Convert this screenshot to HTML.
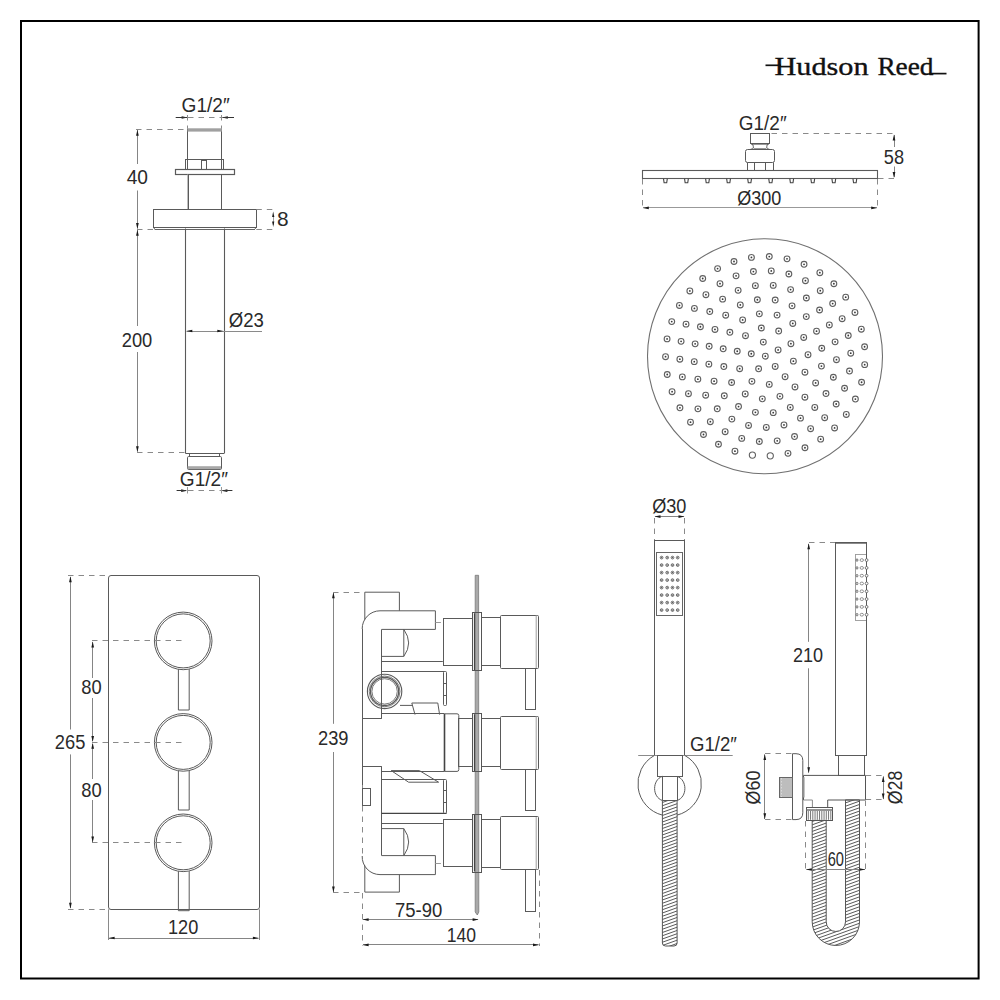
<!DOCTYPE html>
<html><head><meta charset="utf-8"><style>
html,body{margin:0;padding:0;background:#fff;}
body{width:1000px;height:1000px;overflow:hidden;}
svg{display:block;font-family:"Liberation Sans",sans-serif;}
</style></head><body>
<svg width="1000" height="1000" viewBox="0 0 1000 1000">
<rect width="1000" height="1000" fill="#fff"/>
<rect x="21" y="21" width="957.6" height="957.5" fill="none" stroke="#000" stroke-width="2"/>
<text x="774.5" y="74.5" font-size="25.8" fill="#111" textLength="94.1" lengthAdjust="spacingAndGlyphs" font-family="Liberation Serif" stroke="#111" stroke-width="0.35">Hudson</text>
<text x="877.4" y="74.5" font-size="25.8" fill="#111" textLength="56.1" lengthAdjust="spacingAndGlyphs" font-family="Liberation Serif" stroke="#111" stroke-width="0.35">Reed</text>
<line x1="765.5" y1="65.3" x2="781" y2="65.3" stroke="#111" stroke-width="1.7"/>
<line x1="929" y1="73.6" x2="946.5" y2="73.6" stroke="#111" stroke-width="1.7"/>
<text x="181.6" y="111.6" font-size="19.3" fill="#2a2a2a" textLength="48.1" lengthAdjust="spacingAndGlyphs" font-family="Liberation Sans">G1/2&#8243;</text>
<polygon points="187.6,117.5 181.6,116.15 181.6,118.85" fill="#1a1a1a"/>
<line x1="175.7" y1="117.5" x2="187" y2="117.5" stroke="#333" stroke-width="1"/>
<polygon points="221.8,117.5 227.8,116.15 227.8,118.85" fill="#1a1a1a"/>
<line x1="222.5" y1="117.5" x2="234" y2="117.5" stroke="#333" stroke-width="1"/>
<line x1="188" y1="117.5" x2="221.6" y2="117.5" stroke="#8a8a8a" stroke-width="1" stroke-dasharray="5.5 5"/>
<line x1="187.5" y1="115" x2="187.5" y2="128.5" stroke="#8a8a8a" stroke-width="1" stroke-dasharray="5.5 5"/>
<line x1="221.5" y1="115" x2="221.5" y2="128.5" stroke="#8a8a8a" stroke-width="1" stroke-dasharray="5.5 5"/>
<path d="M187.5,128.5 L187.5,159.5 L221.5,159.5 L221.5,128.5" stroke="#5a5a5a" stroke-width="1" fill="none"/>
<rect x="187.5" y="128.3" width="34.4" height="3.3" fill="#a0a0a0"/>
<rect x="185.5" y="159.5" width="38" height="10" stroke="#5a5a5a" stroke-width="1" fill="none"/>
<line x1="187.5" y1="159.3" x2="187.5" y2="169.2" stroke="#5a5a5a" stroke-width="1"/>
<line x1="221.5" y1="159.3" x2="221.5" y2="169.2" stroke="#5a5a5a" stroke-width="1"/>
<rect x="201.5" y="160.5" width="5" height="9" stroke="#5a5a5a" stroke-width="1" fill="none"/>
<rect x="175.5" y="169.5" width="59" height="5" stroke="#5a5a5a" stroke-width="1.2" fill="none"/>
<line x1="187.5" y1="174.6" x2="187.5" y2="209" stroke="#bdbdbd" stroke-width="1"/>
<line x1="188.5" y1="174.6" x2="188.5" y2="209" stroke="#5a5a5a" stroke-width="1"/>
<line x1="221.5" y1="174.6" x2="221.5" y2="209" stroke="#5a5a5a" stroke-width="1"/>
<rect x="153.5" y="209.5" width="103" height="18" stroke="#5a5a5a" stroke-width="1" fill="none"/>
<line x1="154.6" y1="229.5" x2="255" y2="229.5" stroke="#666" stroke-width="1"/>
<path d="M153.9,228 L155,229.3 M255.8,228 L254.6,229.3" stroke="#666" stroke-width="1" fill="none"/>
<line x1="136" y1="129.5" x2="184" y2="129.5" stroke="#8a8a8a" stroke-width="1" stroke-dasharray="5.5 5"/>
<line x1="137.5" y1="130" x2="137.5" y2="164" stroke="#858585" stroke-width="1"/>
<polygon points="137.4,129.8 136.05,135.8 138.75,135.8" fill="#1a1a1a"/>
<line x1="137.5" y1="190.5" x2="137.5" y2="228.5" stroke="#858585" stroke-width="1"/>
<polygon points="137.4,229 136.05,223 138.75,223" fill="#1a1a1a"/>
<text x="126.7" y="183.7" font-size="19.3" fill="#2a2a2a" textLength="21.3" lengthAdjust="spacingAndGlyphs" font-family="Liberation Sans">40</text>
<line x1="137" y1="229.5" x2="153" y2="229.5" stroke="#8a8a8a" stroke-width="1" stroke-dasharray="5.5 5"/>
<line x1="256.3" y1="229.5" x2="274" y2="229.5" stroke="#8a8a8a" stroke-width="1" stroke-dasharray="5.5 5"/>
<line x1="256.3" y1="209.5" x2="274" y2="209.5" stroke="#8a8a8a" stroke-width="1" stroke-dasharray="5.5 5"/>
<line x1="273.5" y1="215" x2="273.5" y2="225" stroke="#858585" stroke-width="0.8"/>
<polygon points="273.2,211.5 272.1,217 274.3,217" fill="#1a1a1a"/>
<polygon points="273.2,227 272.1,221.5 274.3,221.5" fill="#1a1a1a"/>
<text x="277" y="226.1" font-size="19.3" fill="#2a2a2a" textLength="11.6" lengthAdjust="spacingAndGlyphs" font-family="Liberation Sans">8</text>
<line x1="185.5" y1="228.5" x2="185.5" y2="453.3" stroke="#5a5a5a" stroke-width="1.1"/>
<line x1="224.5" y1="228.5" x2="224.5" y2="453.3" stroke="#5a5a5a" stroke-width="1.1"/>
<line x1="185.4" y1="453.5" x2="224.3" y2="453.5" stroke="#5a5a5a" stroke-width="1"/>
<text x="228.8" y="326.9" font-size="19.3" fill="#2a2a2a" textLength="35.1" lengthAdjust="spacingAndGlyphs" font-family="Liberation Sans">&#216;23</text>
<line x1="186.5" y1="331.5" x2="262" y2="331.5" stroke="#8a8a8a" stroke-width="1"/>
<polygon points="186.3,331 192.3,329.65 192.3,332.35" fill="#1a1a1a"/>
<polygon points="223.3,331 217.3,329.65 217.3,332.35" fill="#1a1a1a"/>
<line x1="137.5" y1="230" x2="137.5" y2="326" stroke="#858585" stroke-width="1"/>
<polygon points="137.4,229.8 136.05,235.8 138.75,235.8" fill="#1a1a1a"/>
<line x1="137.5" y1="352" x2="137.5" y2="451.5" stroke="#858585" stroke-width="1"/>
<polygon points="137.4,452.2 136.05,446.2 138.75,446.2" fill="#1a1a1a"/>
<text x="121.7" y="347.2" font-size="19.3" fill="#2a2a2a" textLength="30.6" lengthAdjust="spacingAndGlyphs" font-family="Liberation Sans">200</text>
<line x1="137" y1="452.5" x2="185" y2="452.5" stroke="#8a8a8a" stroke-width="1" stroke-dasharray="5.5 5"/>
<rect x="189.5" y="453.5" width="30" height="3" stroke="#5a5a5a" stroke-width="1" fill="none"/>
<rect x="187.5" y="456.5" width="34" height="13" stroke="#5a5a5a" stroke-width="1" fill="none" rx="1.2"/>
<rect x="187.6" y="466.2" width="33.4" height="3" fill="#a8a8a8"/>
<text x="179.8" y="485.5" font-size="19.3" fill="#2a2a2a" textLength="48.1" lengthAdjust="spacingAndGlyphs" font-family="Liberation Sans">G1/2&#8243;</text>
<polygon points="187.2,490.7 181.2,489.35 181.2,492.05" fill="#1a1a1a"/>
<line x1="176.6" y1="490.5" x2="186" y2="490.5" stroke="#333" stroke-width="1"/>
<polygon points="221.4,490.7 227.4,489.35 227.4,492.05" fill="#1a1a1a"/>
<line x1="222.5" y1="490.5" x2="232.4" y2="490.5" stroke="#333" stroke-width="1"/>
<line x1="188" y1="490.5" x2="221" y2="490.5" stroke="#8a8a8a" stroke-width="1" stroke-dasharray="5.5 5"/>
<line x1="187.5" y1="487" x2="187.5" y2="493.5" stroke="#999" stroke-width="1"/>
<line x1="221.5" y1="487" x2="221.5" y2="493.5" stroke="#999" stroke-width="1"/>
<text x="738.8" y="129.9" font-size="19.3" fill="#2a2a2a" textLength="47.8" lengthAdjust="spacingAndGlyphs" font-family="Liberation Sans">G1/2&#8243;</text>
<rect x="750.5" y="133.5" width="19" height="10" stroke="#5a5a5a" stroke-width="1" fill="none"/>
<line x1="751" y1="144.5" x2="769" y2="144.5" stroke="#999" stroke-width="1"/>
<path d="M751.5,143.5 Q753.3,144.5 753.3,146.5 L753.3,148 Q753.3,149 750.5,149.3 M768.5,143.5 Q766.8,144.5 766.8,146.5 L766.8,148 Q766.8,149 769.5,149.3" stroke="#5a5a5a" stroke-width="1" fill="none"/>
<line x1="754" y1="148.5" x2="766" y2="148.5" stroke="#999" stroke-width="1"/>
<rect x="745.5" y="149.5" width="29" height="13" stroke="#5a5a5a" stroke-width="1" fill="none" rx="2"/>
<line x1="747.5" y1="162.5" x2="747.5" y2="170.5" stroke="#5a5a5a" stroke-width="1"/>
<line x1="754.5" y1="162.5" x2="754.5" y2="170.5" stroke="#5a5a5a" stroke-width="1"/>
<line x1="765.5" y1="162.5" x2="765.5" y2="170.5" stroke="#5a5a5a" stroke-width="1"/>
<line x1="773.5" y1="162.5" x2="773.5" y2="170.5" stroke="#5a5a5a" stroke-width="1"/>
<rect x="642.5" y="170.5" width="235" height="8" stroke="#5a5a5a" stroke-width="1.1" fill="none"/>
<path d="M663.5,178.6 L664.1,182.8 L666.7,182.8 L667.3,178.6" stroke="#444" stroke-width="1.1" fill="none"/>
<path d="M684.55,178.6 L685.15,182.8 L687.75,182.8 L688.35,178.6" stroke="#444" stroke-width="1.1" fill="none"/>
<path d="M705.6,178.6 L706.2,182.8 L708.8,182.8 L709.4,178.6" stroke="#444" stroke-width="1.1" fill="none"/>
<path d="M726.65,178.6 L727.25,182.8 L729.85,182.8 L730.45,178.6" stroke="#444" stroke-width="1.1" fill="none"/>
<path d="M747.7,178.6 L748.3,182.8 L750.9,182.8 L751.5,178.6" stroke="#444" stroke-width="1.1" fill="none"/>
<path d="M768.75,178.6 L769.35,182.8 L771.95,182.8 L772.55,178.6" stroke="#444" stroke-width="1.1" fill="none"/>
<path d="M789.8,178.6 L790.4,182.8 L793,182.8 L793.6,178.6" stroke="#444" stroke-width="1.1" fill="none"/>
<path d="M810.85,178.6 L811.45,182.8 L814.05,182.8 L814.65,178.6" stroke="#444" stroke-width="1.1" fill="none"/>
<path d="M831.9,178.6 L832.5,182.8 L835.1,182.8 L835.7,178.6" stroke="#444" stroke-width="1.1" fill="none"/>
<path d="M852.95,178.6 L853.55,182.8 L856.15,182.8 L856.75,178.6" stroke="#444" stroke-width="1.1" fill="none"/>
<line x1="771.5" y1="133.5" x2="895" y2="133.5" stroke="#8a8a8a" stroke-width="1" stroke-dasharray="5.5 5"/>
<line x1="878" y1="178.5" x2="895" y2="178.5" stroke="#8a8a8a" stroke-width="1" stroke-dasharray="5.5 5"/>
<line x1="894.5" y1="135" x2="894.5" y2="147" stroke="#858585" stroke-width="1"/>
<polygon points="894,134.5 892.65,140.5 895.35,140.5" fill="#1a1a1a"/>
<line x1="894.5" y1="166.5" x2="894.5" y2="177" stroke="#858585" stroke-width="1"/>
<polygon points="894,178 892.65,172 895.35,172" fill="#1a1a1a"/>
<text x="883.8" y="163.8" font-size="19.3" fill="#2a2a2a" textLength="20.2" lengthAdjust="spacingAndGlyphs" font-family="Liberation Sans">58</text>
<text x="737.3" y="205" font-size="19.3" fill="#2a2a2a" textLength="44.1" lengthAdjust="spacingAndGlyphs" font-family="Liberation Sans">&#216;300</text>
<line x1="643" y1="207.5" x2="877" y2="207.5" stroke="#999" stroke-width="1"/>
<polygon points="642.8,207.9 648.8,206.55 648.8,209.25" fill="#1a1a1a"/>
<polygon points="877.2,207.9 871.2,206.55 871.2,209.25" fill="#1a1a1a"/>
<line x1="642.5" y1="179" x2="642.5" y2="210" stroke="#8a8a8a" stroke-width="1" stroke-dasharray="5.5 5"/>
<line x1="877.5" y1="179" x2="877.5" y2="210" stroke="#8a8a8a" stroke-width="1" stroke-dasharray="5.5 5"/>
<circle cx="765" cy="356.25" r="117.5" stroke="#707070" stroke-width="1.1" fill="none"/>
<circle cx="765.3" cy="356.2" r="2.9" stroke="#606060" stroke-width="1.1" fill="none"/>
<circle cx="765.3" cy="356.2" r="0.9" stroke="none" stroke-width="0" fill="#3a3a3a"/>
<circle cx="751.27" cy="353.73" r="2.9" stroke="#606060" stroke-width="1.1" fill="none"/>
<circle cx="751.27" cy="353.73" r="0.9" stroke="none" stroke-width="0" fill="#3a3a3a"/>
<circle cx="763.32" cy="342.09" r="2.9" stroke="#606060" stroke-width="1.1" fill="none"/>
<circle cx="763.32" cy="342.09" r="0.9" stroke="none" stroke-width="0" fill="#3a3a3a"/>
<circle cx="778.11" cy="349.95" r="2.9" stroke="#606060" stroke-width="1.1" fill="none"/>
<circle cx="778.11" cy="349.95" r="0.9" stroke="none" stroke-width="0" fill="#3a3a3a"/>
<circle cx="775.2" cy="366.45" r="2.9" stroke="#606060" stroke-width="1.1" fill="none"/>
<circle cx="775.2" cy="366.45" r="0.9" stroke="none" stroke-width="0" fill="#3a3a3a"/>
<circle cx="758.61" cy="368.78" r="2.9" stroke="#606060" stroke-width="1.1" fill="none"/>
<circle cx="758.61" cy="368.78" r="0.9" stroke="none" stroke-width="0" fill="#3a3a3a"/>
<circle cx="737.23" cy="351.25" r="2.9" stroke="#606060" stroke-width="1.1" fill="none"/>
<circle cx="737.23" cy="351.25" r="0.9" stroke="none" stroke-width="0" fill="#3a3a3a"/>
<circle cx="745.5" cy="335.7" r="2.9" stroke="#606060" stroke-width="1.1" fill="none"/>
<circle cx="745.5" cy="335.7" r="0.9" stroke="none" stroke-width="0" fill="#3a3a3a"/>
<circle cx="761.33" cy="327.98" r="2.9" stroke="#606060" stroke-width="1.1" fill="none"/>
<circle cx="761.33" cy="327.98" r="0.9" stroke="none" stroke-width="0" fill="#3a3a3a"/>
<circle cx="778.68" cy="331.04" r="2.9" stroke="#606060" stroke-width="1.1" fill="none"/>
<circle cx="778.68" cy="331.04" r="0.9" stroke="none" stroke-width="0" fill="#3a3a3a"/>
<circle cx="790.92" cy="343.71" r="2.9" stroke="#606060" stroke-width="1.1" fill="none"/>
<circle cx="790.92" cy="343.71" r="0.9" stroke="none" stroke-width="0" fill="#3a3a3a"/>
<circle cx="793.37" cy="361.15" r="2.9" stroke="#606060" stroke-width="1.1" fill="none"/>
<circle cx="793.37" cy="361.15" r="0.9" stroke="none" stroke-width="0" fill="#3a3a3a"/>
<circle cx="785.1" cy="376.7" r="2.9" stroke="#606060" stroke-width="1.1" fill="none"/>
<circle cx="785.1" cy="376.7" r="0.9" stroke="none" stroke-width="0" fill="#3a3a3a"/>
<circle cx="769.27" cy="384.42" r="2.9" stroke="#606060" stroke-width="1.1" fill="none"/>
<circle cx="769.27" cy="384.42" r="0.9" stroke="none" stroke-width="0" fill="#3a3a3a"/>
<circle cx="751.92" cy="381.36" r="2.9" stroke="#606060" stroke-width="1.1" fill="none"/>
<circle cx="751.92" cy="381.36" r="0.9" stroke="none" stroke-width="0" fill="#3a3a3a"/>
<circle cx="739.68" cy="368.69" r="2.9" stroke="#606060" stroke-width="1.1" fill="none"/>
<circle cx="739.68" cy="368.69" r="0.9" stroke="none" stroke-width="0" fill="#3a3a3a"/>
<circle cx="723.2" cy="348.78" r="2.9" stroke="#606060" stroke-width="1.1" fill="none"/>
<circle cx="723.2" cy="348.78" r="0.9" stroke="none" stroke-width="0" fill="#3a3a3a"/>
<circle cx="729.86" cy="332.29" r="2.9" stroke="#606060" stroke-width="1.1" fill="none"/>
<circle cx="729.86" cy="332.29" r="0.9" stroke="none" stroke-width="0" fill="#3a3a3a"/>
<circle cx="742.65" cy="319.95" r="2.9" stroke="#606060" stroke-width="1.1" fill="none"/>
<circle cx="742.65" cy="319.95" r="0.9" stroke="none" stroke-width="0" fill="#3a3a3a"/>
<circle cx="759.35" cy="313.87" r="2.9" stroke="#606060" stroke-width="1.1" fill="none"/>
<circle cx="759.35" cy="313.87" r="0.9" stroke="none" stroke-width="0" fill="#3a3a3a"/>
<circle cx="777.08" cy="315.11" r="2.9" stroke="#606060" stroke-width="1.1" fill="none"/>
<circle cx="777.08" cy="315.11" r="0.9" stroke="none" stroke-width="0" fill="#3a3a3a"/>
<circle cx="792.78" cy="323.45" r="2.9" stroke="#606060" stroke-width="1.1" fill="none"/>
<circle cx="792.78" cy="323.45" r="0.9" stroke="none" stroke-width="0" fill="#3a3a3a"/>
<circle cx="803.72" cy="337.46" r="2.9" stroke="#606060" stroke-width="1.1" fill="none"/>
<circle cx="803.72" cy="337.46" r="0.9" stroke="none" stroke-width="0" fill="#3a3a3a"/>
<circle cx="808.02" cy="354.71" r="2.9" stroke="#606060" stroke-width="1.1" fill="none"/>
<circle cx="808.02" cy="354.71" r="0.9" stroke="none" stroke-width="0" fill="#3a3a3a"/>
<circle cx="804.94" cy="372.21" r="2.9" stroke="#606060" stroke-width="1.1" fill="none"/>
<circle cx="804.94" cy="372.21" r="0.9" stroke="none" stroke-width="0" fill="#3a3a3a"/>
<circle cx="795" cy="386.95" r="2.9" stroke="#606060" stroke-width="1.1" fill="none"/>
<circle cx="795" cy="386.95" r="0.9" stroke="none" stroke-width="0" fill="#3a3a3a"/>
<circle cx="779.92" cy="396.37" r="2.9" stroke="#606060" stroke-width="1.1" fill="none"/>
<circle cx="779.92" cy="396.37" r="0.9" stroke="none" stroke-width="0" fill="#3a3a3a"/>
<circle cx="762.32" cy="398.85" r="2.9" stroke="#606060" stroke-width="1.1" fill="none"/>
<circle cx="762.32" cy="398.85" r="0.9" stroke="none" stroke-width="0" fill="#3a3a3a"/>
<circle cx="745.23" cy="393.95" r="2.9" stroke="#606060" stroke-width="1.1" fill="none"/>
<circle cx="745.23" cy="393.95" r="0.9" stroke="none" stroke-width="0" fill="#3a3a3a"/>
<circle cx="731.61" cy="382.52" r="2.9" stroke="#606060" stroke-width="1.1" fill="none"/>
<circle cx="731.61" cy="382.52" r="0.9" stroke="none" stroke-width="0" fill="#3a3a3a"/>
<circle cx="723.82" cy="366.54" r="2.9" stroke="#606060" stroke-width="1.1" fill="none"/>
<circle cx="723.82" cy="366.54" r="0.9" stroke="none" stroke-width="0" fill="#3a3a3a"/>
<circle cx="709.17" cy="346.3" r="2.9" stroke="#606060" stroke-width="1.1" fill="none"/>
<circle cx="709.17" cy="346.3" r="0.9" stroke="none" stroke-width="0" fill="#3a3a3a"/>
<circle cx="714.97" cy="329.44" r="2.9" stroke="#606060" stroke-width="1.1" fill="none"/>
<circle cx="714.97" cy="329.44" r="0.9" stroke="none" stroke-width="0" fill="#3a3a3a"/>
<circle cx="725.7" cy="315.2" r="2.9" stroke="#606060" stroke-width="1.1" fill="none"/>
<circle cx="725.7" cy="315.2" r="0.9" stroke="none" stroke-width="0" fill="#3a3a3a"/>
<circle cx="740.31" cy="304.97" r="2.9" stroke="#606060" stroke-width="1.1" fill="none"/>
<circle cx="740.31" cy="304.97" r="0.9" stroke="none" stroke-width="0" fill="#3a3a3a"/>
<circle cx="757.37" cy="299.75" r="2.9" stroke="#606060" stroke-width="1.1" fill="none"/>
<circle cx="757.37" cy="299.75" r="0.9" stroke="none" stroke-width="0" fill="#3a3a3a"/>
<circle cx="775.2" cy="300.07" r="2.9" stroke="#606060" stroke-width="1.1" fill="none"/>
<circle cx="775.2" cy="300.07" r="0.9" stroke="none" stroke-width="0" fill="#3a3a3a"/>
<circle cx="792.06" cy="305.87" r="2.9" stroke="#606060" stroke-width="1.1" fill="none"/>
<circle cx="792.06" cy="305.87" r="0.9" stroke="none" stroke-width="0" fill="#3a3a3a"/>
<circle cx="806.3" cy="316.6" r="2.9" stroke="#606060" stroke-width="1.1" fill="none"/>
<circle cx="806.3" cy="316.6" r="0.9" stroke="none" stroke-width="0" fill="#3a3a3a"/>
<circle cx="816.53" cy="331.21" r="2.9" stroke="#606060" stroke-width="1.1" fill="none"/>
<circle cx="816.53" cy="331.21" r="0.9" stroke="none" stroke-width="0" fill="#3a3a3a"/>
<circle cx="821.75" cy="348.27" r="2.9" stroke="#606060" stroke-width="1.1" fill="none"/>
<circle cx="821.75" cy="348.27" r="0.9" stroke="none" stroke-width="0" fill="#3a3a3a"/>
<circle cx="821.43" cy="366.1" r="2.9" stroke="#606060" stroke-width="1.1" fill="none"/>
<circle cx="821.43" cy="366.1" r="0.9" stroke="none" stroke-width="0" fill="#3a3a3a"/>
<circle cx="815.63" cy="382.96" r="2.9" stroke="#606060" stroke-width="1.1" fill="none"/>
<circle cx="815.63" cy="382.96" r="0.9" stroke="none" stroke-width="0" fill="#3a3a3a"/>
<circle cx="804.9" cy="397.2" r="2.9" stroke="#606060" stroke-width="1.1" fill="none"/>
<circle cx="804.9" cy="397.2" r="0.9" stroke="none" stroke-width="0" fill="#3a3a3a"/>
<circle cx="790.29" cy="407.43" r="2.9" stroke="#606060" stroke-width="1.1" fill="none"/>
<circle cx="790.29" cy="407.43" r="0.9" stroke="none" stroke-width="0" fill="#3a3a3a"/>
<circle cx="773.23" cy="412.65" r="2.9" stroke="#606060" stroke-width="1.1" fill="none"/>
<circle cx="773.23" cy="412.65" r="0.9" stroke="none" stroke-width="0" fill="#3a3a3a"/>
<circle cx="755.4" cy="412.33" r="2.9" stroke="#606060" stroke-width="1.1" fill="none"/>
<circle cx="755.4" cy="412.33" r="0.9" stroke="none" stroke-width="0" fill="#3a3a3a"/>
<circle cx="738.54" cy="406.53" r="2.9" stroke="#606060" stroke-width="1.1" fill="none"/>
<circle cx="738.54" cy="406.53" r="0.9" stroke="none" stroke-width="0" fill="#3a3a3a"/>
<circle cx="724.3" cy="395.8" r="2.9" stroke="#606060" stroke-width="1.1" fill="none"/>
<circle cx="724.3" cy="395.8" r="0.9" stroke="none" stroke-width="0" fill="#3a3a3a"/>
<circle cx="714.07" cy="381.19" r="2.9" stroke="#606060" stroke-width="1.1" fill="none"/>
<circle cx="714.07" cy="381.19" r="0.9" stroke="none" stroke-width="0" fill="#3a3a3a"/>
<circle cx="708.85" cy="364.13" r="2.9" stroke="#606060" stroke-width="1.1" fill="none"/>
<circle cx="708.85" cy="364.13" r="0.9" stroke="none" stroke-width="0" fill="#3a3a3a"/>
<circle cx="695.13" cy="343.83" r="2.9" stroke="#606060" stroke-width="1.1" fill="none"/>
<circle cx="695.13" cy="343.83" r="0.9" stroke="none" stroke-width="0" fill="#3a3a3a"/>
<circle cx="700.41" cy="326.77" r="2.9" stroke="#606060" stroke-width="1.1" fill="none"/>
<circle cx="700.41" cy="326.77" r="0.9" stroke="none" stroke-width="0" fill="#3a3a3a"/>
<circle cx="709.77" cy="311.55" r="2.9" stroke="#606060" stroke-width="1.1" fill="none"/>
<circle cx="709.77" cy="311.55" r="0.9" stroke="none" stroke-width="0" fill="#3a3a3a"/>
<circle cx="722.62" cy="299.15" r="2.9" stroke="#606060" stroke-width="1.1" fill="none"/>
<circle cx="722.62" cy="299.15" r="0.9" stroke="none" stroke-width="0" fill="#3a3a3a"/>
<circle cx="738.15" cy="290.33" r="2.9" stroke="#606060" stroke-width="1.1" fill="none"/>
<circle cx="738.15" cy="290.33" r="0.9" stroke="none" stroke-width="0" fill="#3a3a3a"/>
<circle cx="755.38" cy="285.64" r="2.9" stroke="#606060" stroke-width="1.1" fill="none"/>
<circle cx="755.38" cy="285.64" r="0.9" stroke="none" stroke-width="0" fill="#3a3a3a"/>
<circle cx="773.24" cy="285.39" r="2.9" stroke="#606060" stroke-width="1.1" fill="none"/>
<circle cx="773.24" cy="285.39" r="0.9" stroke="none" stroke-width="0" fill="#3a3a3a"/>
<circle cx="790.6" cy="289.59" r="2.9" stroke="#606060" stroke-width="1.1" fill="none"/>
<circle cx="790.6" cy="289.59" r="0.9" stroke="none" stroke-width="0" fill="#3a3a3a"/>
<circle cx="806.37" cy="297.98" r="2.9" stroke="#606060" stroke-width="1.1" fill="none"/>
<circle cx="806.37" cy="297.98" r="0.9" stroke="none" stroke-width="0" fill="#3a3a3a"/>
<circle cx="819.56" cy="310.02" r="2.9" stroke="#606060" stroke-width="1.1" fill="none"/>
<circle cx="819.56" cy="310.02" r="0.9" stroke="none" stroke-width="0" fill="#3a3a3a"/>
<circle cx="829.34" cy="324.97" r="2.9" stroke="#606060" stroke-width="1.1" fill="none"/>
<circle cx="829.34" cy="324.97" r="0.9" stroke="none" stroke-width="0" fill="#3a3a3a"/>
<circle cx="835.09" cy="341.87" r="2.9" stroke="#606060" stroke-width="1.1" fill="none"/>
<circle cx="835.09" cy="341.87" r="0.9" stroke="none" stroke-width="0" fill="#3a3a3a"/>
<circle cx="836.46" cy="359.68" r="2.9" stroke="#606060" stroke-width="1.1" fill="none"/>
<circle cx="836.46" cy="359.68" r="0.9" stroke="none" stroke-width="0" fill="#3a3a3a"/>
<circle cx="833.36" cy="377.27" r="2.9" stroke="#606060" stroke-width="1.1" fill="none"/>
<circle cx="833.36" cy="377.27" r="0.9" stroke="none" stroke-width="0" fill="#3a3a3a"/>
<circle cx="825.99" cy="393.53" r="2.9" stroke="#606060" stroke-width="1.1" fill="none"/>
<circle cx="825.99" cy="393.53" r="0.9" stroke="none" stroke-width="0" fill="#3a3a3a"/>
<circle cx="814.79" cy="407.45" r="2.9" stroke="#606060" stroke-width="1.1" fill="none"/>
<circle cx="814.79" cy="407.45" r="0.9" stroke="none" stroke-width="0" fill="#3a3a3a"/>
<circle cx="800.49" cy="418.15" r="2.9" stroke="#606060" stroke-width="1.1" fill="none"/>
<circle cx="800.49" cy="418.15" r="0.9" stroke="none" stroke-width="0" fill="#3a3a3a"/>
<circle cx="783.98" cy="424.96" r="2.9" stroke="#606060" stroke-width="1.1" fill="none"/>
<circle cx="783.98" cy="424.96" r="0.9" stroke="none" stroke-width="0" fill="#3a3a3a"/>
<circle cx="766.29" cy="427.44" r="2.9" stroke="#606060" stroke-width="1.1" fill="none"/>
<circle cx="766.29" cy="427.44" r="0.9" stroke="none" stroke-width="0" fill="#3a3a3a"/>
<circle cx="748.55" cy="425.45" r="2.9" stroke="#606060" stroke-width="1.1" fill="none"/>
<circle cx="748.55" cy="425.45" r="0.9" stroke="none" stroke-width="0" fill="#3a3a3a"/>
<circle cx="731.85" cy="419.11" r="2.9" stroke="#606060" stroke-width="1.1" fill="none"/>
<circle cx="731.85" cy="419.11" r="0.9" stroke="none" stroke-width="0" fill="#3a3a3a"/>
<circle cx="717.26" cy="408.81" r="2.9" stroke="#606060" stroke-width="1.1" fill="none"/>
<circle cx="717.26" cy="408.81" r="0.9" stroke="none" stroke-width="0" fill="#3a3a3a"/>
<circle cx="705.68" cy="395.21" r="2.9" stroke="#606060" stroke-width="1.1" fill="none"/>
<circle cx="705.68" cy="395.21" r="0.9" stroke="none" stroke-width="0" fill="#3a3a3a"/>
<circle cx="697.85" cy="379.16" r="2.9" stroke="#606060" stroke-width="1.1" fill="none"/>
<circle cx="697.85" cy="379.16" r="0.9" stroke="none" stroke-width="0" fill="#3a3a3a"/>
<circle cx="694.26" cy="361.67" r="2.9" stroke="#606060" stroke-width="1.1" fill="none"/>
<circle cx="694.26" cy="361.67" r="0.9" stroke="none" stroke-width="0" fill="#3a3a3a"/>
<circle cx="681.1" cy="341.35" r="2.9" stroke="#606060" stroke-width="1.1" fill="none"/>
<circle cx="681.1" cy="341.35" r="0.9" stroke="none" stroke-width="0" fill="#3a3a3a"/>
<circle cx="686.03" cy="324.17" r="2.9" stroke="#606060" stroke-width="1.1" fill="none"/>
<circle cx="686.03" cy="324.17" r="0.9" stroke="none" stroke-width="0" fill="#3a3a3a"/>
<circle cx="694.42" cy="308.39" r="2.9" stroke="#606060" stroke-width="1.1" fill="none"/>
<circle cx="694.42" cy="308.39" r="0.9" stroke="none" stroke-width="0" fill="#3a3a3a"/>
<circle cx="705.91" cy="294.7" r="2.9" stroke="#606060" stroke-width="1.1" fill="none"/>
<circle cx="705.91" cy="294.7" r="0.9" stroke="none" stroke-width="0" fill="#3a3a3a"/>
<circle cx="719.99" cy="283.69" r="2.9" stroke="#606060" stroke-width="1.1" fill="none"/>
<circle cx="719.99" cy="283.69" r="0.9" stroke="none" stroke-width="0" fill="#3a3a3a"/>
<circle cx="736.06" cy="275.86" r="2.9" stroke="#606060" stroke-width="1.1" fill="none"/>
<circle cx="736.06" cy="275.86" r="0.9" stroke="none" stroke-width="0" fill="#3a3a3a"/>
<circle cx="753.4" cy="271.53" r="2.9" stroke="#606060" stroke-width="1.1" fill="none"/>
<circle cx="753.4" cy="271.53" r="0.9" stroke="none" stroke-width="0" fill="#3a3a3a"/>
<circle cx="771.26" cy="270.91" r="2.9" stroke="#606060" stroke-width="1.1" fill="none"/>
<circle cx="771.26" cy="270.91" r="0.9" stroke="none" stroke-width="0" fill="#3a3a3a"/>
<circle cx="788.87" cy="274.01" r="2.9" stroke="#606060" stroke-width="1.1" fill="none"/>
<circle cx="788.87" cy="274.01" r="0.9" stroke="none" stroke-width="0" fill="#3a3a3a"/>
<circle cx="805.44" cy="280.71" r="2.9" stroke="#606060" stroke-width="1.1" fill="none"/>
<circle cx="805.44" cy="280.71" r="0.9" stroke="none" stroke-width="0" fill="#3a3a3a"/>
<circle cx="820.26" cy="290.7" r="2.9" stroke="#606060" stroke-width="1.1" fill="none"/>
<circle cx="820.26" cy="290.7" r="0.9" stroke="none" stroke-width="0" fill="#3a3a3a"/>
<circle cx="832.67" cy="303.56" r="2.9" stroke="#606060" stroke-width="1.1" fill="none"/>
<circle cx="832.67" cy="303.56" r="0.9" stroke="none" stroke-width="0" fill="#3a3a3a"/>
<circle cx="842.15" cy="318.72" r="2.9" stroke="#606060" stroke-width="1.1" fill="none"/>
<circle cx="842.15" cy="318.72" r="0.9" stroke="none" stroke-width="0" fill="#3a3a3a"/>
<circle cx="848.26" cy="335.52" r="2.9" stroke="#606060" stroke-width="1.1" fill="none"/>
<circle cx="848.26" cy="335.52" r="0.9" stroke="none" stroke-width="0" fill="#3a3a3a"/>
<circle cx="850.75" cy="353.22" r="2.9" stroke="#606060" stroke-width="1.1" fill="none"/>
<circle cx="850.75" cy="353.22" r="0.9" stroke="none" stroke-width="0" fill="#3a3a3a"/>
<circle cx="849.5" cy="371.05" r="2.9" stroke="#606060" stroke-width="1.1" fill="none"/>
<circle cx="849.5" cy="371.05" r="0.9" stroke="none" stroke-width="0" fill="#3a3a3a"/>
<circle cx="844.57" cy="388.23" r="2.9" stroke="#606060" stroke-width="1.1" fill="none"/>
<circle cx="844.57" cy="388.23" r="0.9" stroke="none" stroke-width="0" fill="#3a3a3a"/>
<circle cx="836.18" cy="404.01" r="2.9" stroke="#606060" stroke-width="1.1" fill="none"/>
<circle cx="836.18" cy="404.01" r="0.9" stroke="none" stroke-width="0" fill="#3a3a3a"/>
<circle cx="824.69" cy="417.7" r="2.9" stroke="#606060" stroke-width="1.1" fill="none"/>
<circle cx="824.69" cy="417.7" r="0.9" stroke="none" stroke-width="0" fill="#3a3a3a"/>
<circle cx="810.61" cy="428.71" r="2.9" stroke="#606060" stroke-width="1.1" fill="none"/>
<circle cx="810.61" cy="428.71" r="0.9" stroke="none" stroke-width="0" fill="#3a3a3a"/>
<circle cx="794.54" cy="436.54" r="2.9" stroke="#606060" stroke-width="1.1" fill="none"/>
<circle cx="794.54" cy="436.54" r="0.9" stroke="none" stroke-width="0" fill="#3a3a3a"/>
<circle cx="777.2" cy="440.87" r="2.9" stroke="#606060" stroke-width="1.1" fill="none"/>
<circle cx="777.2" cy="440.87" r="0.9" stroke="none" stroke-width="0" fill="#3a3a3a"/>
<circle cx="759.34" cy="441.49" r="2.9" stroke="#606060" stroke-width="1.1" fill="none"/>
<circle cx="759.34" cy="441.49" r="0.9" stroke="none" stroke-width="0" fill="#3a3a3a"/>
<circle cx="741.73" cy="438.39" r="2.9" stroke="#606060" stroke-width="1.1" fill="none"/>
<circle cx="741.73" cy="438.39" r="0.9" stroke="none" stroke-width="0" fill="#3a3a3a"/>
<circle cx="725.16" cy="431.69" r="2.9" stroke="#606060" stroke-width="1.1" fill="none"/>
<circle cx="725.16" cy="431.69" r="0.9" stroke="none" stroke-width="0" fill="#3a3a3a"/>
<circle cx="710.34" cy="421.7" r="2.9" stroke="#606060" stroke-width="1.1" fill="none"/>
<circle cx="710.34" cy="421.7" r="0.9" stroke="none" stroke-width="0" fill="#3a3a3a"/>
<circle cx="697.93" cy="408.84" r="2.9" stroke="#606060" stroke-width="1.1" fill="none"/>
<circle cx="697.93" cy="408.84" r="0.9" stroke="none" stroke-width="0" fill="#3a3a3a"/>
<circle cx="688.45" cy="393.68" r="2.9" stroke="#606060" stroke-width="1.1" fill="none"/>
<circle cx="688.45" cy="393.68" r="0.9" stroke="none" stroke-width="0" fill="#3a3a3a"/>
<circle cx="682.34" cy="376.88" r="2.9" stroke="#606060" stroke-width="1.1" fill="none"/>
<circle cx="682.34" cy="376.88" r="0.9" stroke="none" stroke-width="0" fill="#3a3a3a"/>
<circle cx="679.85" cy="359.18" r="2.9" stroke="#606060" stroke-width="1.1" fill="none"/>
<circle cx="679.85" cy="359.18" r="0.9" stroke="none" stroke-width="0" fill="#3a3a3a"/>
<circle cx="667.07" cy="338.88" r="2.9" stroke="#606060" stroke-width="1.1" fill="none"/>
<circle cx="667.07" cy="338.88" r="0.9" stroke="none" stroke-width="0" fill="#3a3a3a"/>
<circle cx="671.74" cy="321.62" r="2.9" stroke="#606060" stroke-width="1.1" fill="none"/>
<circle cx="671.74" cy="321.62" r="0.9" stroke="none" stroke-width="0" fill="#3a3a3a"/>
<circle cx="679.42" cy="305.47" r="2.9" stroke="#606060" stroke-width="1.1" fill="none"/>
<circle cx="679.42" cy="305.47" r="0.9" stroke="none" stroke-width="0" fill="#3a3a3a"/>
<circle cx="689.85" cy="290.95" r="2.9" stroke="#606060" stroke-width="1.1" fill="none"/>
<circle cx="689.85" cy="290.95" r="0.9" stroke="none" stroke-width="0" fill="#3a3a3a"/>
<circle cx="702.72" cy="278.52" r="2.9" stroke="#606060" stroke-width="1.1" fill="none"/>
<circle cx="702.72" cy="278.52" r="0.9" stroke="none" stroke-width="0" fill="#3a3a3a"/>
<circle cx="717.59" cy="268.6" r="2.9" stroke="#606060" stroke-width="1.1" fill="none"/>
<circle cx="717.59" cy="268.6" r="0.9" stroke="none" stroke-width="0" fill="#3a3a3a"/>
<circle cx="734" cy="261.49" r="2.9" stroke="#606060" stroke-width="1.1" fill="none"/>
<circle cx="734" cy="261.49" r="0.9" stroke="none" stroke-width="0" fill="#3a3a3a"/>
<circle cx="751.42" cy="257.42" r="2.9" stroke="#606060" stroke-width="1.1" fill="none"/>
<circle cx="751.42" cy="257.42" r="0.9" stroke="none" stroke-width="0" fill="#3a3a3a"/>
<circle cx="769.28" cy="256.53" r="2.9" stroke="#606060" stroke-width="1.1" fill="none"/>
<circle cx="769.28" cy="256.53" r="0.9" stroke="none" stroke-width="0" fill="#3a3a3a"/>
<circle cx="787.01" cy="258.84" r="2.9" stroke="#606060" stroke-width="1.1" fill="none"/>
<circle cx="787.01" cy="258.84" r="0.9" stroke="none" stroke-width="0" fill="#3a3a3a"/>
<circle cx="804.05" cy="264.28" r="2.9" stroke="#606060" stroke-width="1.1" fill="none"/>
<circle cx="804.05" cy="264.28" r="0.9" stroke="none" stroke-width="0" fill="#3a3a3a"/>
<circle cx="819.84" cy="272.68" r="2.9" stroke="#606060" stroke-width="1.1" fill="none"/>
<circle cx="819.84" cy="272.68" r="0.9" stroke="none" stroke-width="0" fill="#3a3a3a"/>
<circle cx="833.87" cy="283.76" r="2.9" stroke="#606060" stroke-width="1.1" fill="none"/>
<circle cx="833.87" cy="283.76" r="0.9" stroke="none" stroke-width="0" fill="#3a3a3a"/>
<circle cx="845.71" cy="297.17" r="2.9" stroke="#606060" stroke-width="1.1" fill="none"/>
<circle cx="845.71" cy="297.17" r="0.9" stroke="none" stroke-width="0" fill="#3a3a3a"/>
<circle cx="854.95" cy="312.47" r="2.9" stroke="#606060" stroke-width="1.1" fill="none"/>
<circle cx="854.95" cy="312.47" r="0.9" stroke="none" stroke-width="0" fill="#3a3a3a"/>
<circle cx="861.32" cy="329.18" r="2.9" stroke="#606060" stroke-width="1.1" fill="none"/>
<circle cx="861.32" cy="329.18" r="0.9" stroke="none" stroke-width="0" fill="#3a3a3a"/>
<circle cx="864.6" cy="346.76" r="2.9" stroke="#606060" stroke-width="1.1" fill="none"/>
<circle cx="864.6" cy="346.76" r="0.9" stroke="none" stroke-width="0" fill="#3a3a3a"/>
<circle cx="864.69" cy="364.65" r="2.9" stroke="#606060" stroke-width="1.1" fill="none"/>
<circle cx="864.69" cy="364.65" r="0.9" stroke="none" stroke-width="0" fill="#3a3a3a"/>
<circle cx="861.59" cy="382.26" r="2.9" stroke="#606060" stroke-width="1.1" fill="none"/>
<circle cx="861.59" cy="382.26" r="0.9" stroke="none" stroke-width="0" fill="#3a3a3a"/>
<circle cx="855.39" cy="399.03" r="2.9" stroke="#606060" stroke-width="1.1" fill="none"/>
<circle cx="855.39" cy="399.03" r="0.9" stroke="none" stroke-width="0" fill="#3a3a3a"/>
<circle cx="846.29" cy="414.43" r="2.9" stroke="#606060" stroke-width="1.1" fill="none"/>
<circle cx="846.29" cy="414.43" r="0.9" stroke="none" stroke-width="0" fill="#3a3a3a"/>
<circle cx="834.59" cy="427.95" r="2.9" stroke="#606060" stroke-width="1.1" fill="none"/>
<circle cx="834.59" cy="427.95" r="0.9" stroke="none" stroke-width="0" fill="#3a3a3a"/>
<circle cx="820.67" cy="439.17" r="2.9" stroke="#606060" stroke-width="1.1" fill="none"/>
<circle cx="820.67" cy="439.17" r="0.9" stroke="none" stroke-width="0" fill="#3a3a3a"/>
<circle cx="804.96" cy="447.73" r="2.9" stroke="#606060" stroke-width="1.1" fill="none"/>
<circle cx="804.96" cy="447.73" r="0.9" stroke="none" stroke-width="0" fill="#3a3a3a"/>
<circle cx="787.98" cy="453.34" r="2.9" stroke="#606060" stroke-width="1.1" fill="none"/>
<circle cx="787.98" cy="453.34" r="0.9" stroke="none" stroke-width="0" fill="#3a3a3a"/>
<circle cx="770.27" cy="455.83" r="3.1" stroke="#606060" stroke-width="1.1" fill="none"/>
<circle cx="752.4" cy="455.11" r="3.1" stroke="#606060" stroke-width="1.1" fill="none"/>
<circle cx="734.95" cy="451.22" r="2.9" stroke="#606060" stroke-width="1.1" fill="none"/>
<circle cx="734.95" cy="451.22" r="0.9" stroke="none" stroke-width="0" fill="#3a3a3a"/>
<circle cx="718.47" cy="444.27" r="2.9" stroke="#606060" stroke-width="1.1" fill="none"/>
<circle cx="718.47" cy="444.27" r="0.9" stroke="none" stroke-width="0" fill="#3a3a3a"/>
<circle cx="703.5" cy="434.5" r="2.9" stroke="#606060" stroke-width="1.1" fill="none"/>
<circle cx="703.5" cy="434.5" r="0.9" stroke="none" stroke-width="0" fill="#3a3a3a"/>
<circle cx="690.51" cy="422.2" r="2.9" stroke="#606060" stroke-width="1.1" fill="none"/>
<circle cx="690.51" cy="422.2" r="0.9" stroke="none" stroke-width="0" fill="#3a3a3a"/>
<circle cx="679.93" cy="407.79" r="2.9" stroke="#606060" stroke-width="1.1" fill="none"/>
<circle cx="679.93" cy="407.79" r="0.9" stroke="none" stroke-width="0" fill="#3a3a3a"/>
<circle cx="672.09" cy="391.71" r="2.9" stroke="#606060" stroke-width="1.1" fill="none"/>
<circle cx="672.09" cy="391.71" r="0.9" stroke="none" stroke-width="0" fill="#3a3a3a"/>
<circle cx="667.24" cy="374.5" r="2.9" stroke="#606060" stroke-width="1.1" fill="none"/>
<circle cx="667.24" cy="374.5" r="0.9" stroke="none" stroke-width="0" fill="#3a3a3a"/>
<circle cx="665.55" cy="356.7" r="2.9" stroke="#606060" stroke-width="1.1" fill="none"/>
<circle cx="665.55" cy="356.7" r="0.9" stroke="none" stroke-width="0" fill="#3a3a3a"/>
<rect x="108.5" y="575.5" width="151" height="334" stroke="#5a5a5a" stroke-width="1" fill="none" rx="2.5"/>
<circle cx="183.2" cy="640.9" r="28.8" stroke="#5a5a5a" stroke-width="1" fill="none"/>
<circle cx="183.2" cy="640.9" r="27" stroke="#5a5a5a" stroke-width="1" fill="none"/>
<path d="M178.4,669.2 L178.4,710 L189.2,710 L189.2,669.2" stroke="#5a5a5a" stroke-width="1" fill="none"/>
<circle cx="183.2" cy="742.4" r="28.8" stroke="#5a5a5a" stroke-width="1" fill="none"/>
<circle cx="183.2" cy="742.4" r="27" stroke="#5a5a5a" stroke-width="1" fill="none"/>
<path d="M178.4,770.8 L178.4,810 L189.2,810 L189.2,770.8" stroke="#5a5a5a" stroke-width="1" fill="none"/>
<circle cx="183.2" cy="842.8" r="28.8" stroke="#5a5a5a" stroke-width="1" fill="none"/>
<circle cx="183.2" cy="842.8" r="27" stroke="#5a5a5a" stroke-width="1" fill="none"/>
<path d="M178.4,871.2 L178.4,910.7 L189.2,910.7 L189.2,871.2" stroke="#5a5a5a" stroke-width="1" fill="none"/>
<line x1="68" y1="575.5" x2="108" y2="575.5" stroke="#8a8a8a" stroke-width="1" stroke-dasharray="5.5 5"/>
<line x1="68" y1="909.5" x2="108" y2="909.5" stroke="#8a8a8a" stroke-width="1" stroke-dasharray="5.5 5"/>
<line x1="70.5" y1="577" x2="70.5" y2="729.5" stroke="#858585" stroke-width="1"/>
<polygon points="70.4,576.2 69.05,582.2 71.75,582.2" fill="#1a1a1a"/>
<line x1="70.5" y1="754.4" x2="70.5" y2="908" stroke="#858585" stroke-width="1"/>
<polygon points="70.4,908.8 69.05,902.8 71.75,902.8" fill="#1a1a1a"/>
<text x="54.8" y="748.9" font-size="19.3" fill="#2a2a2a" textLength="30.5" lengthAdjust="spacingAndGlyphs" font-family="Liberation Sans">265</text>
<line x1="92" y1="640.5" x2="186" y2="640.5" stroke="#8a8a8a" stroke-width="1" stroke-dasharray="5.5 5"/>
<line x1="92" y1="742.5" x2="186" y2="742.5" stroke="#8a8a8a" stroke-width="1" stroke-dasharray="5.5 5"/>
<line x1="92" y1="842.5" x2="186" y2="842.5" stroke="#8a8a8a" stroke-width="1" stroke-dasharray="5.5 5"/>
<line x1="92.5" y1="642" x2="92.5" y2="678" stroke="#858585" stroke-width="1"/>
<polygon points="92.7,641.4 91.35,647.4 94.05,647.4" fill="#1a1a1a"/>
<line x1="92.5" y1="698" x2="92.5" y2="741" stroke="#858585" stroke-width="1"/>
<polygon points="92.7,742 91.35,736 94.05,736" fill="#1a1a1a"/>
<line x1="92.5" y1="744" x2="92.5" y2="779" stroke="#858585" stroke-width="1"/>
<polygon points="92.7,742.8 91.35,748.8 94.05,748.8" fill="#1a1a1a"/>
<line x1="92.5" y1="800" x2="92.5" y2="842" stroke="#858585" stroke-width="1"/>
<polygon points="92.7,842.4 91.35,836.4 94.05,836.4" fill="#1a1a1a"/>
<text x="81.2" y="694.4" font-size="19.3" fill="#2a2a2a" textLength="20.4" lengthAdjust="spacingAndGlyphs" font-family="Liberation Sans">80</text>
<text x="81.2" y="796.5" font-size="19.3" fill="#2a2a2a" textLength="20.4" lengthAdjust="spacingAndGlyphs" font-family="Liberation Sans">80</text>
<line x1="108.5" y1="909.3" x2="108.5" y2="940" stroke="#8a8a8a" stroke-width="1"/>
<line x1="259.5" y1="909.3" x2="259.5" y2="940" stroke="#8a8a8a" stroke-width="1"/>
<line x1="109" y1="938.5" x2="258.5" y2="938.5" stroke="#858585" stroke-width="1"/>
<polygon points="108.6,938 114.6,936.65 114.6,939.35" fill="#1a1a1a"/>
<polygon points="258.9,938 252.9,936.65 252.9,939.35" fill="#1a1a1a"/>
<text x="168" y="933.5" font-size="19.3" fill="#2a2a2a" textLength="30.3" lengthAdjust="spacingAndGlyphs" font-family="Liberation Sans">120</text>
<path d="M475.2,575.3 L478.6,575.3 L478.8,912 L477.3,915 L475.2,912 Z" fill="#a9a9a9" stroke="#7a7a7a" stroke-width="0.8"/>
<path d="M364.8,619.5 L364.8,592.2 L399.4,592.2 L399.4,610.8" stroke="#5a5a5a" stroke-width="1" fill="none"/>
<path d="M362.2,629 A17.8,17.8 0 0 1 380,610.8 L435.4,610.8 L435.4,629.4 L381.6,629.4" stroke="#5a5a5a" stroke-width="1" fill="none"/>
<line x1="362.5" y1="629" x2="362.5" y2="785" stroke="#5a5a5a" stroke-width="1"/>
<line x1="362.5" y1="785" x2="362.5" y2="856" stroke="#8a8a8a" stroke-width="1" stroke-dasharray="5.5 5"/>
<line x1="381.5" y1="629.4" x2="381.5" y2="718.8" stroke="#5a5a5a" stroke-width="1"/>
<line x1="362.2" y1="718.5" x2="381.6" y2="718.5" stroke="#5a5a5a" stroke-width="1"/>
<line x1="362.2" y1="766.5" x2="381.6" y2="766.5" stroke="#5a5a5a" stroke-width="1"/>
<line x1="381.5" y1="766.2" x2="381.5" y2="855.6" stroke="#5a5a5a" stroke-width="1"/>
<path d="M381.6,656.4 L403.8,656.4 L403.8,629.4 M403.8,629.4 Q413.5,643 403.8,656.4" stroke="#5a5a5a" stroke-width="1" fill="none"/>
<path d="M381.6,828.6 L403.8,828.6 L403.8,855.6 M403.8,828.6 Q413.5,842 403.8,855.6" stroke="#5a5a5a" stroke-width="1" fill="none"/>
<line x1="381.6" y1="661.5" x2="442.8" y2="661.5" stroke="#5a5a5a" stroke-width="1"/>
<line x1="381.6" y1="671.5" x2="444.5" y2="671.5" stroke="#5a5a5a" stroke-width="1"/>
<line x1="381.6" y1="713.5" x2="444.4" y2="713.5" stroke="#5a5a5a" stroke-width="1"/>
<line x1="435.4" y1="622.5" x2="442.8" y2="622.5" stroke="#999" stroke-width="1" stroke-dasharray="5.5 5"/>
<circle cx="384.6" cy="691.4" r="17.2" stroke="#5a5a5a" stroke-width="1.1" fill="none"/>
<circle cx="384.6" cy="691.4" r="15.4" stroke="#5a5a5a" stroke-width="0.8" fill="none"/>
<circle cx="384.6" cy="691.4" r="14.1" stroke="#5a5a5a" stroke-width="1.3" fill="none"/>
<circle cx="384.6" cy="691.4" r="12.7" stroke="#5a5a5a" stroke-width="0.8" fill="none"/>
<line x1="381.5" y1="676" x2="381.5" y2="706" stroke="#5a5a5a" stroke-width="1"/>
<path d="M400,705.4 L412,705.4 M411.8,703 L437.8,703 L439.6,714.6 M411.8,703 L415,714.6" stroke="#5a5a5a" stroke-width="1" fill="none"/>
<rect x="443.5" y="671.5" width="3" height="34" stroke="#5a5a5a" stroke-width="1" fill="none" rx="1"/>
<rect x="443.5" y="779.5" width="3" height="34" stroke="#5a5a5a" stroke-width="1" fill="none" rx="1"/>
<line x1="443" y1="683.5" x2="446.8" y2="683.5" stroke="#5a5a5a" stroke-width="1"/>
<line x1="443" y1="695.5" x2="446.8" y2="695.5" stroke="#5a5a5a" stroke-width="1"/>
<line x1="443" y1="790.5" x2="446.8" y2="790.5" stroke="#5a5a5a" stroke-width="1"/>
<line x1="443" y1="802.5" x2="446.8" y2="802.5" stroke="#5a5a5a" stroke-width="1"/>
<line x1="444.5" y1="713.8" x2="444.5" y2="771.4" stroke="#444" stroke-width="1.6"/>
<path d="M444.5,713.8 L457,713.8 Q458.8,713.8 458.8,715.5 L458.8,769.7 Q458.8,771.4 457,771.4 L444.5,771.4" stroke="#5a5a5a" stroke-width="1" fill="none"/>
<line x1="381.6" y1="771.5" x2="444.5" y2="771.5" stroke="#5a5a5a" stroke-width="1"/>
<path d="M391.2,770.6 L419.4,770.6 L438.6,782.2 L408.6,782.2 Z" stroke="#5a5a5a" stroke-width="1" fill="none"/>
<line x1="381.6" y1="779.5" x2="445" y2="779.5" stroke="#5a5a5a" stroke-width="1"/>
<line x1="381.6" y1="813.4" x2="446.5" y2="813.4" stroke="#444" stroke-width="1.4"/>
<line x1="381.6" y1="823.5" x2="442.8" y2="823.5" stroke="#5a5a5a" stroke-width="1"/>
<rect x="362.5" y="788.5" width="8" height="17" stroke="#5a5a5a" stroke-width="1" fill="none"/>
<path d="M362.2,856 A17.8,17.8 0 0 0 380,874.6 L435.4,874.6 L435.4,855.6 L381.6,855.6" stroke="#5a5a5a" stroke-width="1" fill="none"/>
<line x1="435.4" y1="863.5" x2="442.8" y2="863.5" stroke="#999" stroke-width="1" stroke-dasharray="5.5 5"/>
<path d="M364.8,865.5 L364.8,892.1 L399.4,892.1 L399.4,874.6" stroke="#5a5a5a" stroke-width="1" fill="none"/>
<rect x="443.5" y="618.5" width="29" height="47" stroke="#5a5a5a" stroke-width="1" fill="none"/>
<rect x="443.5" y="819.5" width="29" height="47" stroke="#5a5a5a" stroke-width="1" fill="none"/>
<rect x="458.5" y="718.5" width="14" height="48" stroke="#5a5a5a" stroke-width="1" fill="none"/>
<rect x="472.5" y="612.5" width="9" height="58" stroke="#555" stroke-width="1" fill="none"/>
<line x1="474.5" y1="613.2" x2="474.5" y2="670" stroke="#444" stroke-width="1.2"/>
<line x1="481.8" y1="617.5" x2="500.6" y2="617.5" stroke="#5a5a5a" stroke-width="1"/>
<line x1="481.8" y1="665.5" x2="500.6" y2="665.5" stroke="#5a5a5a" stroke-width="1"/>
<rect x="500.5" y="615.5" width="38" height="53" stroke="#5a5a5a" stroke-width="1" fill="none" rx="1"/>
<line x1="536.3" y1="615.6" x2="536.3" y2="668" stroke="#bbb" stroke-width="1.5"/>
<rect x="525.5" y="668.5" width="10" height="41" stroke="#5a5a5a" stroke-width="1" fill="none"/>
<rect x="472.5" y="713.5" width="9" height="58" stroke="#555" stroke-width="1" fill="none"/>
<line x1="474.5" y1="714.2" x2="474.5" y2="771" stroke="#444" stroke-width="1.2"/>
<line x1="481.8" y1="718.5" x2="500.6" y2="718.5" stroke="#5a5a5a" stroke-width="1"/>
<line x1="481.8" y1="766.5" x2="500.6" y2="766.5" stroke="#5a5a5a" stroke-width="1"/>
<rect x="500.5" y="716.5" width="38" height="53" stroke="#5a5a5a" stroke-width="1" fill="none" rx="1"/>
<line x1="536.3" y1="716.6" x2="536.3" y2="769" stroke="#bbb" stroke-width="1.5"/>
<rect x="525.5" y="769.5" width="10" height="41" stroke="#5a5a5a" stroke-width="1" fill="none"/>
<rect x="472.5" y="814.5" width="9" height="58" stroke="#555" stroke-width="1" fill="none"/>
<line x1="474.5" y1="814.7" x2="474.5" y2="871.5" stroke="#444" stroke-width="1.2"/>
<line x1="481.8" y1="819.5" x2="500.6" y2="819.5" stroke="#5a5a5a" stroke-width="1"/>
<line x1="481.8" y1="867.5" x2="500.6" y2="867.5" stroke="#5a5a5a" stroke-width="1"/>
<rect x="500.5" y="816.5" width="38" height="53" stroke="#5a5a5a" stroke-width="1" fill="none" rx="1"/>
<line x1="536.3" y1="817.1" x2="536.3" y2="869.5" stroke="#bbb" stroke-width="1.5"/>
<rect x="525.5" y="869.5" width="10" height="42" stroke="#5a5a5a" stroke-width="1" fill="none"/>
<line x1="333.5" y1="593" x2="333.5" y2="723.8" stroke="#858585" stroke-width="1"/>
<polygon points="333.4,592.2 332.05,598.2 334.75,598.2" fill="#1a1a1a"/>
<line x1="333.5" y1="752" x2="333.5" y2="892" stroke="#858585" stroke-width="1"/>
<polygon points="333.4,892.6 332.05,886.6 334.75,886.6" fill="#1a1a1a"/>
<line x1="333" y1="592.5" x2="363" y2="592.5" stroke="#8a8a8a" stroke-width="1" stroke-dasharray="5.5 5"/>
<line x1="333" y1="892.5" x2="362" y2="892.5" stroke="#8a8a8a" stroke-width="1" stroke-dasharray="5.5 5"/>
<text x="318" y="744.8" font-size="19.3" fill="#2a2a2a" textLength="30.5" lengthAdjust="spacingAndGlyphs" font-family="Liberation Sans">239</text>
<line x1="362.5" y1="893" x2="362.5" y2="946" stroke="#8a8a8a" stroke-width="1" stroke-dasharray="5.5 5"/>
<line x1="539.5" y1="870" x2="539.5" y2="946" stroke="#8a8a8a" stroke-width="1" stroke-dasharray="5.5 5"/>
<line x1="363" y1="919.5" x2="478" y2="919.5" stroke="#858585" stroke-width="1"/>
<polygon points="362.6,919.6 368.6,918.25 368.6,920.95" fill="#1a1a1a"/>
<polygon points="478.6,919.6 472.6,918.25 472.6,920.95" fill="#1a1a1a"/>
<text x="395" y="917.2" font-size="19.3" fill="#2a2a2a" textLength="47.3" lengthAdjust="spacingAndGlyphs" font-family="Liberation Sans">75-90</text>
<line x1="363" y1="944.5" x2="538.5" y2="944.5" stroke="#858585" stroke-width="1"/>
<polygon points="362.6,944.9 368.6,943.55 368.6,946.25" fill="#1a1a1a"/>
<polygon points="539,944.9 533,943.55 533,946.25" fill="#1a1a1a"/>
<text x="446.7" y="941.6" font-size="19.3" fill="#2a2a2a" textLength="29.3" lengthAdjust="spacingAndGlyphs" font-family="Liberation Sans">140</text>
<text x="652.2" y="512.8" font-size="19.3" fill="#2a2a2a" textLength="34.2" lengthAdjust="spacingAndGlyphs" font-family="Liberation Sans">&#216;30</text>
<line x1="655" y1="516.5" x2="684" y2="516.5" stroke="#858585" stroke-width="1"/>
<polygon points="654.5,516.6 660.5,515.25 660.5,517.95" fill="#1a1a1a"/>
<polygon points="684.5,516.6 678.5,515.25 678.5,517.95" fill="#1a1a1a"/>
<line x1="654.5" y1="518" x2="654.5" y2="540" stroke="#8a8a8a" stroke-width="1" stroke-dasharray="5.5 5"/>
<line x1="684.5" y1="518" x2="684.5" y2="540" stroke="#8a8a8a" stroke-width="1" stroke-dasharray="5.5 5"/>
<rect x="654.5" y="540.5" width="30" height="215" stroke="#5a5a5a" stroke-width="1" fill="none"/>
<rect x="656.5" y="552.5" width="26" height="63" stroke="#666" stroke-width="1" fill="none"/>
<circle cx="661.6" cy="557.6" r="1.35" stroke="#555" stroke-width="0.9" fill="none"/>
<circle cx="661.6" cy="557.6" r="0.6" stroke="none" stroke-width="0" fill="#444"/>
<circle cx="667.2" cy="557.6" r="1.35" stroke="#555" stroke-width="0.9" fill="none"/>
<circle cx="667.2" cy="557.6" r="0.6" stroke="none" stroke-width="0" fill="#444"/>
<circle cx="672.5" cy="557.6" r="1.35" stroke="#555" stroke-width="0.9" fill="none"/>
<circle cx="672.5" cy="557.6" r="0.6" stroke="none" stroke-width="0" fill="#444"/>
<circle cx="677.7" cy="557.6" r="1.35" stroke="#555" stroke-width="0.9" fill="none"/>
<circle cx="677.7" cy="557.6" r="0.6" stroke="none" stroke-width="0" fill="#444"/>
<circle cx="661.6" cy="565.1" r="1.35" stroke="#555" stroke-width="0.9" fill="none"/>
<circle cx="661.6" cy="565.1" r="0.6" stroke="none" stroke-width="0" fill="#444"/>
<circle cx="667.2" cy="565.1" r="1.35" stroke="#555" stroke-width="0.9" fill="none"/>
<circle cx="667.2" cy="565.1" r="0.6" stroke="none" stroke-width="0" fill="#444"/>
<circle cx="672.5" cy="565.1" r="1.35" stroke="#555" stroke-width="0.9" fill="none"/>
<circle cx="672.5" cy="565.1" r="0.6" stroke="none" stroke-width="0" fill="#444"/>
<circle cx="677.7" cy="565.1" r="1.35" stroke="#555" stroke-width="0.9" fill="none"/>
<circle cx="677.7" cy="565.1" r="0.6" stroke="none" stroke-width="0" fill="#444"/>
<circle cx="661.6" cy="572.6" r="1.35" stroke="#555" stroke-width="0.9" fill="none"/>
<circle cx="661.6" cy="572.6" r="0.6" stroke="none" stroke-width="0" fill="#444"/>
<circle cx="667.2" cy="572.6" r="1.35" stroke="#555" stroke-width="0.9" fill="none"/>
<circle cx="667.2" cy="572.6" r="0.6" stroke="none" stroke-width="0" fill="#444"/>
<circle cx="672.5" cy="572.6" r="1.35" stroke="#555" stroke-width="0.9" fill="none"/>
<circle cx="672.5" cy="572.6" r="0.6" stroke="none" stroke-width="0" fill="#444"/>
<circle cx="677.7" cy="572.6" r="1.35" stroke="#555" stroke-width="0.9" fill="none"/>
<circle cx="677.7" cy="572.6" r="0.6" stroke="none" stroke-width="0" fill="#444"/>
<circle cx="661.6" cy="580.1" r="1.35" stroke="#555" stroke-width="0.9" fill="none"/>
<circle cx="661.6" cy="580.1" r="0.6" stroke="none" stroke-width="0" fill="#444"/>
<circle cx="667.2" cy="580.1" r="1.35" stroke="#555" stroke-width="0.9" fill="none"/>
<circle cx="667.2" cy="580.1" r="0.6" stroke="none" stroke-width="0" fill="#444"/>
<circle cx="672.5" cy="580.1" r="1.35" stroke="#555" stroke-width="0.9" fill="none"/>
<circle cx="672.5" cy="580.1" r="0.6" stroke="none" stroke-width="0" fill="#444"/>
<circle cx="677.7" cy="580.1" r="1.35" stroke="#555" stroke-width="0.9" fill="none"/>
<circle cx="677.7" cy="580.1" r="0.6" stroke="none" stroke-width="0" fill="#444"/>
<circle cx="661.6" cy="587.6" r="1.35" stroke="#555" stroke-width="0.9" fill="none"/>
<circle cx="661.6" cy="587.6" r="0.6" stroke="none" stroke-width="0" fill="#444"/>
<circle cx="667.2" cy="587.6" r="1.35" stroke="#555" stroke-width="0.9" fill="none"/>
<circle cx="667.2" cy="587.6" r="0.6" stroke="none" stroke-width="0" fill="#444"/>
<circle cx="672.5" cy="587.6" r="1.35" stroke="#555" stroke-width="0.9" fill="none"/>
<circle cx="672.5" cy="587.6" r="0.6" stroke="none" stroke-width="0" fill="#444"/>
<circle cx="677.7" cy="587.6" r="1.35" stroke="#555" stroke-width="0.9" fill="none"/>
<circle cx="677.7" cy="587.6" r="0.6" stroke="none" stroke-width="0" fill="#444"/>
<circle cx="661.6" cy="595.1" r="1.35" stroke="#555" stroke-width="0.9" fill="none"/>
<circle cx="661.6" cy="595.1" r="0.6" stroke="none" stroke-width="0" fill="#444"/>
<circle cx="667.2" cy="595.1" r="1.35" stroke="#555" stroke-width="0.9" fill="none"/>
<circle cx="667.2" cy="595.1" r="0.6" stroke="none" stroke-width="0" fill="#444"/>
<circle cx="672.5" cy="595.1" r="1.35" stroke="#555" stroke-width="0.9" fill="none"/>
<circle cx="672.5" cy="595.1" r="0.6" stroke="none" stroke-width="0" fill="#444"/>
<circle cx="677.7" cy="595.1" r="1.35" stroke="#555" stroke-width="0.9" fill="none"/>
<circle cx="677.7" cy="595.1" r="0.6" stroke="none" stroke-width="0" fill="#444"/>
<circle cx="661.6" cy="602.6" r="1.35" stroke="#555" stroke-width="0.9" fill="none"/>
<circle cx="661.6" cy="602.6" r="0.6" stroke="none" stroke-width="0" fill="#444"/>
<circle cx="667.2" cy="602.6" r="1.35" stroke="#555" stroke-width="0.9" fill="none"/>
<circle cx="667.2" cy="602.6" r="0.6" stroke="none" stroke-width="0" fill="#444"/>
<circle cx="672.5" cy="602.6" r="1.35" stroke="#555" stroke-width="0.9" fill="none"/>
<circle cx="672.5" cy="602.6" r="0.6" stroke="none" stroke-width="0" fill="#444"/>
<circle cx="677.7" cy="602.6" r="1.35" stroke="#555" stroke-width="0.9" fill="none"/>
<circle cx="677.7" cy="602.6" r="0.6" stroke="none" stroke-width="0" fill="#444"/>
<circle cx="661.6" cy="610.1" r="1.35" stroke="#555" stroke-width="0.9" fill="none"/>
<circle cx="661.6" cy="610.1" r="0.6" stroke="none" stroke-width="0" fill="#444"/>
<circle cx="667.2" cy="610.1" r="1.35" stroke="#555" stroke-width="0.9" fill="none"/>
<circle cx="667.2" cy="610.1" r="0.6" stroke="none" stroke-width="0" fill="#444"/>
<circle cx="672.5" cy="610.1" r="1.35" stroke="#555" stroke-width="0.9" fill="none"/>
<circle cx="672.5" cy="610.1" r="0.6" stroke="none" stroke-width="0" fill="#444"/>
<circle cx="677.7" cy="610.1" r="1.35" stroke="#555" stroke-width="0.9" fill="none"/>
<circle cx="677.7" cy="610.1" r="0.6" stroke="none" stroke-width="0" fill="#444"/>
<line x1="638.2" y1="755.5" x2="732.7" y2="755.5" stroke="#8a8a8a" stroke-width="1"/>
<text x="690" y="751.4" font-size="19.3" fill="#2a2a2a" textLength="46.9" lengthAdjust="spacingAndGlyphs" font-family="Liberation Sans">G1/2&#8243;</text>
<path d="M654.3,755.5 A32.4,32.4 0 0 0 662.4,815.1" stroke="#5a5a5a" stroke-width="1" fill="none"/>
<path d="M684.9,755.5 A32.4,32.4 0 0 1 677.1,815.1" stroke="#5a5a5a" stroke-width="1" fill="none"/>
<rect x="657.5" y="755.5" width="25" height="21" stroke="#5a5a5a" stroke-width="1" fill="none"/>
<path d="M662.4,776.3 C652,780 652,797 662.4,800.5 M677.1,776.3 C687.5,780 687.5,797 677.1,800.5" stroke="#5a5a5a" stroke-width="1" fill="none"/>
<line x1="662.5" y1="776.3" x2="662.5" y2="800.5" stroke="#5a5a5a" stroke-width="1"/>
<line x1="677.5" y1="776.3" x2="677.5" y2="800.5" stroke="#5a5a5a" stroke-width="1"/>
<line x1="662.4" y1="800.5" x2="677.1" y2="800.5" stroke="#5a5a5a" stroke-width="1"/>
<clipPath id="hc1"><path d="M662.4,800.5 L677.1,800.5 L677.1,943 Q677.1,946 674,946 L665.5,946 Q662.4,946 662.4,943 Z"/></clipPath>
<path d="M660,793.6 L680,786.4 M660,796.85 L680,789.65 M660,800.1 L680,792.9 M660,803.35 L680,796.15 M660,806.6 L680,799.4 M660,809.85 L680,802.65 M660,813.1 L680,805.9 M660,816.35 L680,809.15 M660,819.6 L680,812.4 M660,822.85 L680,815.65 M660,826.1 L680,818.9 M660,829.35 L680,822.15 M660,832.6 L680,825.4 M660,835.85 L680,828.65 M660,839.1 L680,831.9 M660,842.35 L680,835.15 M660,845.6 L680,838.4 M660,848.85 L680,841.65 M660,852.1 L680,844.9 M660,855.35 L680,848.15 M660,858.6 L680,851.4 M660,861.85 L680,854.65 M660,865.1 L680,857.9 M660,868.35 L680,861.15 M660,871.6 L680,864.4 M660,874.85 L680,867.65 M660,878.1 L680,870.9 M660,881.35 L680,874.15 M660,884.6 L680,877.4 M660,887.85 L680,880.65 M660,891.1 L680,883.9 M660,894.35 L680,887.15 M660,897.6 L680,890.4 M660,900.85 L680,893.65 M660,904.1 L680,896.9 M660,907.35 L680,900.15 M660,910.6 L680,903.4 M660,913.85 L680,906.65 M660,917.1 L680,909.9 M660,920.35 L680,913.15 M660,923.6 L680,916.4 M660,926.85 L680,919.65 M660,930.1 L680,922.9 M660,933.35 L680,926.15 M660,936.6 L680,929.4 M660,939.85 L680,932.65 M660,943.1 L680,935.9 M660,946.35 L680,939.15 M660,949.6 L680,942.4 M660,952.85 L680,945.65 M660,956.1 L680,948.9 M660,959.35 L680,952.15 M660,962.6 L680,955.4" stroke="#5a5a5a" stroke-width="1" clip-path="url(#hc1)"/>
<path d="M662.4,800.5 L662.4,943 Q662.4,946 665.5,946 L674,946 Q677.1,946 677.1,943 L677.1,800.5" stroke="#555" stroke-width="1" fill="none"/>
<line x1="809" y1="542.5" x2="835.6" y2="542.5" stroke="#8a8a8a" stroke-width="1" stroke-dasharray="5.5 5"/>
<line x1="808.5" y1="544" x2="808.5" y2="641.8" stroke="#858585" stroke-width="1"/>
<polygon points="808.7,543.3 807.35,549.3 810.05,549.3" fill="#1a1a1a"/>
<line x1="808.5" y1="668.3" x2="808.5" y2="772.5" stroke="#858585" stroke-width="1"/>
<polygon points="808.7,773.2 807.35,767.2 810.05,767.2" fill="#1a1a1a"/>
<text x="792.9" y="661.6" font-size="19.3" fill="#2a2a2a" textLength="30.1" lengthAdjust="spacingAndGlyphs" font-family="Liberation Sans">210</text>
<rect x="855.5" y="554.5" width="11" height="66" stroke="#999" stroke-width="0.9" fill="none"/>
<ellipse cx="857.0" cy="560.1" rx="0.9" ry="1.3" fill="none" stroke="#555" stroke-width="0.8"/>
<ellipse cx="861.8" cy="560.1" rx="1.7" ry="1.4" fill="none" stroke="#777" stroke-width="0.8"/>
<ellipse cx="857.0" cy="567.9" rx="0.9" ry="1.3" fill="none" stroke="#555" stroke-width="0.8"/>
<ellipse cx="861.8" cy="567.9" rx="1.7" ry="1.4" fill="none" stroke="#777" stroke-width="0.8"/>
<ellipse cx="857.0" cy="575.7" rx="0.9" ry="1.3" fill="none" stroke="#555" stroke-width="0.8"/>
<ellipse cx="861.8" cy="575.7" rx="1.7" ry="1.4" fill="none" stroke="#777" stroke-width="0.8"/>
<ellipse cx="857.0" cy="583.5" rx="0.9" ry="1.3" fill="none" stroke="#555" stroke-width="0.8"/>
<ellipse cx="861.8" cy="583.5" rx="1.7" ry="1.4" fill="none" stroke="#777" stroke-width="0.8"/>
<ellipse cx="857.0" cy="591.3" rx="0.9" ry="1.3" fill="none" stroke="#555" stroke-width="0.8"/>
<ellipse cx="861.8" cy="591.3" rx="1.7" ry="1.4" fill="none" stroke="#777" stroke-width="0.8"/>
<ellipse cx="857.0" cy="599.1" rx="0.9" ry="1.3" fill="none" stroke="#555" stroke-width="0.8"/>
<ellipse cx="861.8" cy="599.1" rx="1.7" ry="1.4" fill="none" stroke="#777" stroke-width="0.8"/>
<ellipse cx="857.0" cy="606.9" rx="0.9" ry="1.3" fill="none" stroke="#555" stroke-width="0.8"/>
<ellipse cx="861.8" cy="606.9" rx="1.7" ry="1.4" fill="none" stroke="#777" stroke-width="0.8"/>
<ellipse cx="857.0" cy="614.7" rx="0.9" ry="1.3" fill="none" stroke="#555" stroke-width="0.8"/>
<ellipse cx="861.8" cy="614.7" rx="1.7" ry="1.4" fill="none" stroke="#777" stroke-width="0.8"/>
<rect x="835.5" y="542.5" width="31" height="213" stroke="#5a5a5a" stroke-width="1" fill="none"/>
<line x1="835.6" y1="542.9" x2="866.6" y2="542.9" stroke="#5a5a5a" stroke-width="1.6"/>
<circle cx="866.6" cy="560.1" r="1.4" stroke="#555" stroke-width="0.8" fill="#fff"/>
<circle cx="866.6" cy="567.9" r="1.4" stroke="#555" stroke-width="0.8" fill="#fff"/>
<circle cx="866.6" cy="575.7" r="1.4" stroke="#555" stroke-width="0.8" fill="#fff"/>
<circle cx="866.6" cy="583.5" r="1.4" stroke="#555" stroke-width="0.8" fill="#fff"/>
<circle cx="866.6" cy="591.3" r="1.4" stroke="#555" stroke-width="0.8" fill="#fff"/>
<circle cx="866.6" cy="599.1" r="1.4" stroke="#555" stroke-width="0.8" fill="#fff"/>
<circle cx="866.6" cy="606.9" r="1.4" stroke="#555" stroke-width="0.8" fill="#fff"/>
<circle cx="866.6" cy="614.7" r="1.4" stroke="#555" stroke-width="0.8" fill="#fff"/>
<rect x="838.5" y="755.5" width="26" height="20" stroke="#5a5a5a" stroke-width="1" fill="none"/>
<path d="M803.5,800 L803.5,775.4 L865.5,775.4 L865.5,800 L827.7,800 L827.7,807.4" stroke="#555" stroke-width="1" fill="none"/>
<path d="M803.5,800 L812.4,800 L812.4,807.4" stroke="#8a8a8a" stroke-width="1" fill="none"/>
<path d="M792.5,753.7 L796,753.7 Q802.8,753.7 802.8,760.5 L802.8,812.8 Q802.8,819.6 796,819.6 L792.5,819.6 Z" fill="none" stroke="#5a5a5a" stroke-width="1"/>
<rect x="779.5" y="777.5" width="13" height="20" stroke="#666" stroke-width="1" fill="#bdbdbd"/>
<line x1="781.5" y1="778" x2="781.5" y2="797" stroke="#e0e0e0" stroke-width="0.8" stroke-dasharray="1.5 1.5"/>
<rect x="803.2" y="777.2" width="1.4" height="20.3" fill="#a0a0a0"/>
<rect x="806.5" y="807.5" width="26" height="13" stroke="#555" stroke-width="1" fill="none"/>
<line x1="806.3" y1="809.5" x2="832.5" y2="809.5" stroke="#777" stroke-width="0.8"/>
<line x1="806.3" y1="810.5" x2="832.5" y2="810.5" stroke="#777" stroke-width="0.8"/>
<path d="M808.3,811 L808.3,819.8 M810.55,811 L810.55,819.8 M812.8,811 L812.8,819.8 M815.05,811 L815.05,819.8 M817.3,811 L817.3,819.8 M819.55,811 L819.55,819.8 M821.8,811 L821.8,819.8 M824.05,811 L824.05,819.8 M826.3,811 L826.3,819.8 M828.55,811 L828.55,819.8 M830.8,811 L830.8,819.8" stroke="#555" stroke-width="0.8"/>
<clipPath id="hc2"><path d="M812.2,820.4 L812.2,921.85 A23.65,23.65 0 0 0 859.5,921.85 L859.5,799.9 L845.5,799.9 L845.5,921.85 A9.65,9.65 0 0 1 826.2,921.85 L826.2,820.4 Z"/></clipPath>
<path d="M805,801 L866,779 M805,804.3 L866,782.3 M805,807.6 L866,785.6 M805,810.9 L866,788.9 M805,814.2 L866,792.2 M805,817.5 L866,795.5 M805,820.8 L866,798.8 M805,824.1 L866,802.1 M805,827.4 L866,805.4 M805,830.7 L866,808.7 M805,834 L866,812 M805,837.3 L866,815.3 M805,840.6 L866,818.6 M805,843.9 L866,821.9 M805,847.2 L866,825.2 M805,850.5 L866,828.5 M805,853.8 L866,831.8 M805,857.1 L866,835.1 M805,860.4 L866,838.4 M805,863.7 L866,841.7 M805,867 L866,845 M805,870.3 L866,848.3 M805,873.6 L866,851.6 M805,876.9 L866,854.9 M805,880.2 L866,858.2 M805,883.5 L866,861.5 M805,886.8 L866,864.8 M805,890.1 L866,868.1 M805,893.4 L866,871.4 M805,896.7 L866,874.7 M805,900 L866,878 M805,903.3 L866,881.3 M805,906.6 L866,884.6 M805,909.9 L866,887.9 M805,913.2 L866,891.2 M805,916.5 L866,894.5 M805,919.8 L866,897.8 M805,923.1 L866,901.1 M805,926.4 L866,904.4 M805,929.7 L866,907.7 M805,933 L866,911 M805,936.3 L866,914.3 M805,939.6 L866,917.6 M805,942.9 L866,920.9 M805,946.2 L866,924.2 M805,949.5 L866,927.5 M805,952.8 L866,930.8 M805,956.1 L866,934.1 M805,959.4 L866,937.4 M805,962.7 L866,940.7 M805,966 L866,944 M805,969.3 L866,947.3 M805,972.6 L866,950.6 M805,975.9 L866,953.9 M805,979.2 L866,957.2 M805,982.5 L866,960.5 M805,985.8 L866,963.8 M805,989.1 L866,967.1" stroke="#5a5a5a" stroke-width="1" clip-path="url(#hc2)"/>
<path d="M812.2,820.4 L812.2,921.85 A23.65,23.65 0 0 0 859.5,921.85 L859.5,799.9 L845.5,799.9 L845.5,921.85 A9.65,9.65 0 0 1 826.2,921.85 L826.2,820.4 Z" stroke="#555" stroke-width="1" fill="none"/>
<line x1="765" y1="753.5" x2="792.5" y2="753.5" stroke="#8a8a8a" stroke-width="1" stroke-dasharray="5.5 5"/>
<line x1="765" y1="819.5" x2="792.5" y2="819.5" stroke="#8a8a8a" stroke-width="1" stroke-dasharray="5.5 5"/>
<line x1="764.5" y1="754.5" x2="764.5" y2="819" stroke="#858585" stroke-width="1"/>
<polygon points="764.8,754 763.45,760 766.15,760" fill="#1a1a1a"/>
<polygon points="764.8,819.3 763.45,813.3 766.15,813.3" fill="#1a1a1a"/>
<text x="0" y="0" font-size="19.3" fill="#2a2a2a" textLength="33.9" lengthAdjust="spacingAndGlyphs" font-family="Liberation Sans" transform="translate(759.7,804.5) rotate(-90)">&#216;60</text>
<line x1="865.6" y1="775.5" x2="884" y2="775.5" stroke="#8a8a8a" stroke-width="1" stroke-dasharray="5.5 5"/>
<line x1="865.6" y1="799.5" x2="884" y2="799.5" stroke="#8a8a8a" stroke-width="1" stroke-dasharray="5.5 5"/>
<line x1="883.5" y1="776.5" x2="883.5" y2="799" stroke="#858585" stroke-width="1"/>
<polygon points="883.2,776 881.85,782 884.55,782" fill="#1a1a1a"/>
<polygon points="883.2,799.5 881.85,793.5 884.55,793.5" fill="#1a1a1a"/>
<text x="0" y="0" font-size="19.3" fill="#2a2a2a" textLength="33.5" lengthAdjust="spacingAndGlyphs" font-family="Liberation Sans" transform="translate(902.4,804.2) rotate(-90)">&#216;28</text>
<line x1="805.5" y1="821" x2="805.5" y2="870" stroke="#8a8a8a" stroke-width="1" stroke-dasharray="5.5 5"/>
<line x1="865.5" y1="800.5" x2="865.5" y2="870" stroke="#8a8a8a" stroke-width="1" stroke-dasharray="5.5 5"/>
<line x1="806.5" y1="869.5" x2="865" y2="869.5" stroke="#858585" stroke-width="1"/>
<polygon points="805.8,869.5 811.8,868.15 811.8,870.85" fill="#1a1a1a"/>
<polygon points="865.4,869.5 859.4,868.15 859.4,870.85" fill="#1a1a1a"/>
<rect x="827.5" y="852" width="17" height="16.5" fill="#fff"/>
<text x="827.7" y="866" font-size="19.3" fill="#2a2a2a" textLength="16.3" lengthAdjust="spacingAndGlyphs" font-family="Liberation Sans">60</text>
</svg>
</body></html>
